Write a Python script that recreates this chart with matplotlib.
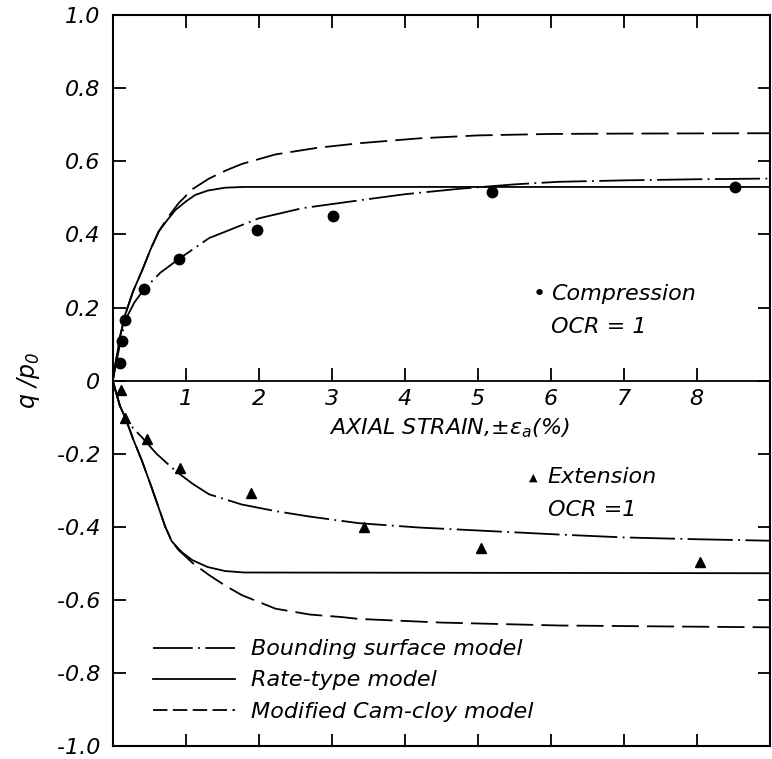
import numpy as np
import matplotlib
matplotlib.use("Agg")
import matplotlib.pyplot as plt
from matplotlib.lines import Line2D

# measured points, compression
comp_x = [0.096, 0.127, 0.174, 0.434, 0.914, 1.98, 3.02, 5.20, 8.52]
comp_y = [0.049, 0.108, 0.165, 0.251, 0.332, 0.411, 0.451, 0.515, 0.529]

# measured points, extension
ext_x = [0.114, 0.17, 0.47, 0.92, 1.89, 3.44, 5.05, 8.04]
ext_y = [-0.026, -0.101, -0.161, -0.239, -0.307, -0.401, -0.459, -0.495]

# bounding surface model
bs_c_x = [0, 0.05, 0.1, 0.17, 0.3, 0.43, 0.65, 0.9, 1.32, 2.0, 2.6, 3.4, 4.0, 4.75, 5.5, 6.1, 7.0, 8.0, 9.0]
bs_c_y = [0, 0.05, 0.1, 0.165, 0.215, 0.25, 0.295, 0.332, 0.39, 0.444, 0.472, 0.494, 0.51, 0.525, 0.537, 0.544, 0.548, 0.551, 0.553]
bs_e_x = [0, 0.05, 0.1, 0.17, 0.28, 0.4, 0.6, 0.86, 1.1, 1.32, 1.77, 2.23, 2.7, 3.37, 4.2, 5.2, 6.1, 7.0, 8.0, 9.0]
bs_e_y = [0, -0.035, -0.07, -0.1, -0.13, -0.155, -0.2, -0.247, -0.283, -0.311, -0.339, -0.357, -0.372, -0.39, -0.402, -0.412, -0.421, -0.429, -0.434, -0.438]

# rate-type model
rt_c_x = [0, 0.05, 0.1, 0.17, 0.28, 0.4, 0.52, 0.63, 0.75, 0.86, 1.0, 1.13, 1.3, 1.54, 1.8, 9.0]
rt_c_y = [0, 0.06, 0.12, 0.18, 0.245, 0.30, 0.36, 0.408, 0.44, 0.467, 0.49, 0.508, 0.52, 0.528, 0.53, 0.53]
rt_e_x = [0, 0.05, 0.1, 0.17, 0.28, 0.4, 0.52, 0.63, 0.72, 0.81, 0.95, 1.09, 1.3, 1.54, 1.8, 9.0]
rt_e_y = [0, -0.035, -0.07, -0.1, -0.16, -0.219, -0.285, -0.348, -0.4, -0.44, -0.47, -0.491, -0.51, -0.521, -0.525, -0.527]

# modified cam-clay model
cc_c_x = [0, 0.05, 0.1, 0.17, 0.28, 0.4, 0.52, 0.63, 0.75, 0.9, 1.1, 1.32, 1.55, 1.77, 2.23, 2.8, 3.4, 4.2, 5.0, 6.0, 7.0, 9.0]
cc_c_y = [0, 0.06, 0.12, 0.18, 0.245, 0.30, 0.36, 0.408, 0.445, 0.485, 0.525, 0.553, 0.575, 0.593, 0.619, 0.637, 0.65, 0.663, 0.671, 0.675, 0.676, 0.677]
cc_e_x = [0, 0.05, 0.1, 0.17, 0.28, 0.4, 0.52, 0.63, 0.72, 0.81, 0.9, 1.1, 1.32, 1.55, 1.77, 2.23, 2.7, 3.14, 3.37, 4.5, 6.11, 9.0]
cc_e_y = [0, -0.035, -0.07, -0.1, -0.16, -0.219, -0.285, -0.348, -0.4, -0.44, -0.463, -0.5, -0.532, -0.562, -0.587, -0.624, -0.64, -0.647, -0.652, -0.662, -0.67, -0.675]

xticks = [1, 2, 3, 4, 5, 6, 7, 8]
yticks = [1.0, 0.8, 0.6, 0.4, 0.2, 0, -0.2, -0.4, -0.6, -0.8, -1.0]
ytick_labels = ["1.0", "0.8", "0.6", "0.4", "0.2", "0", "-0.2", "-0.4", "-0.6", "-0.8", "-1.0"]

plt.rcParams['font.family'] = 'DejaVu Sans'
plt.rcParams['font.style'] = 'italic'
plt.rcParams['mathtext.fontset'] = 'dejavusans'

fig = plt.figure(figsize=(7.72, 7.59), dpi=100)
ax = fig.add_axes([0.146, 0.017, 0.851, 0.963])

lw = 1.3
fs = 16
dashdot = (0, (25, 3, 1, 3))
dashed = (0, (15, 4.5))

ax.plot(bs_c_x, bs_c_y, color='k', lw=lw, ls=dashdot)
ax.plot(bs_e_x, bs_e_y, color='k', lw=lw, ls=dashdot)
ax.plot(rt_c_x, rt_c_y, color='k', lw=lw, ls='-')
ax.plot(rt_e_x, rt_e_y, color='k', lw=lw, ls='-')
ax.plot(cc_c_x, cc_c_y, color='k', lw=lw, ls=dashed)
ax.plot(cc_e_x, cc_e_y, color='k', lw=lw, ls=dashed)

ax.plot(comp_x, comp_y, 'o', color='k', ms=7.5, ls='none')
ax.plot(ext_x, ext_y, '^', color='k', ms=7, ls='none')

# zero line with its own ticks and labels
ax.axhline(0, color='k', lw=1.3)
ax.vlines(xticks, 0, 0.035, color='k', lw=1.3)
for t in xticks:
    ax.text(t, -0.022, str(t), ha='center', va='top', fontsize=fs)
ax.text(2.96, -0.13, r"AXIAL STRAIN,$\pm\varepsilon_a$(%)", ha='left', va='center', fontsize=fs)

ax.text(5.84, 0.236, "\u2022", ha='center', va='center', fontsize=fs)
ax.text(6.0, 0.236, "Compression", ha='left', va='center', fontsize=fs)
ax.text(6.0, 0.146, "OCR = 1", ha='left', va='center', fontsize=fs)
ax.text(5.76, -0.265, "\u25b2", ha='center', va='center', fontsize=8)
ax.text(5.96, -0.265, "Extension", ha='left', va='center', fontsize=fs)
ax.text(5.96, -0.354, "OCR =1", ha='left', va='center', fontsize=fs)

handles = [Line2D([], [], color='k', lw=lw, ls=(0, (22, 3, 1, 3))),
           Line2D([], [], color='k', lw=lw, ls='-'),
           Line2D([], [], color='k', lw=lw, ls=(0, (8, 3)))]
labels = ["Bounding surface model", "Rate-type model", "Modified Cam-cloy model"]
ax.legend(handles, labels, loc='upper left', bbox_to_anchor=(0.061, 0.146),
          frameon=False, fontsize=fs, handlelength=3.7, handletextpad=0.7,
          labelspacing=0.5, borderpad=0, borderaxespad=0)

ax.set_xlim(0, 9)
ax.set_ylim(-1, 1)
ax.set_xticks(xticks)
ax.set_xticklabels([])
ax.set_yticks(yticks)
ax.set_yticklabels(ytick_labels)
ax.tick_params(axis='both', direction='in', length=9, width=1.3, labelsize=fs)
ax.tick_params(axis='x', top=True, bottom=True)
ax.tick_params(axis='y', left=True, right=True, pad=9)
for s in ax.spines.values():
    s.set_linewidth(1.5)

ax.set_ylabel(r"$q\ /p_0$", fontsize=17)
ax.yaxis.set_label_coords(-0.107, 0.5)

fig.savefig("out.png", dpi=100)
